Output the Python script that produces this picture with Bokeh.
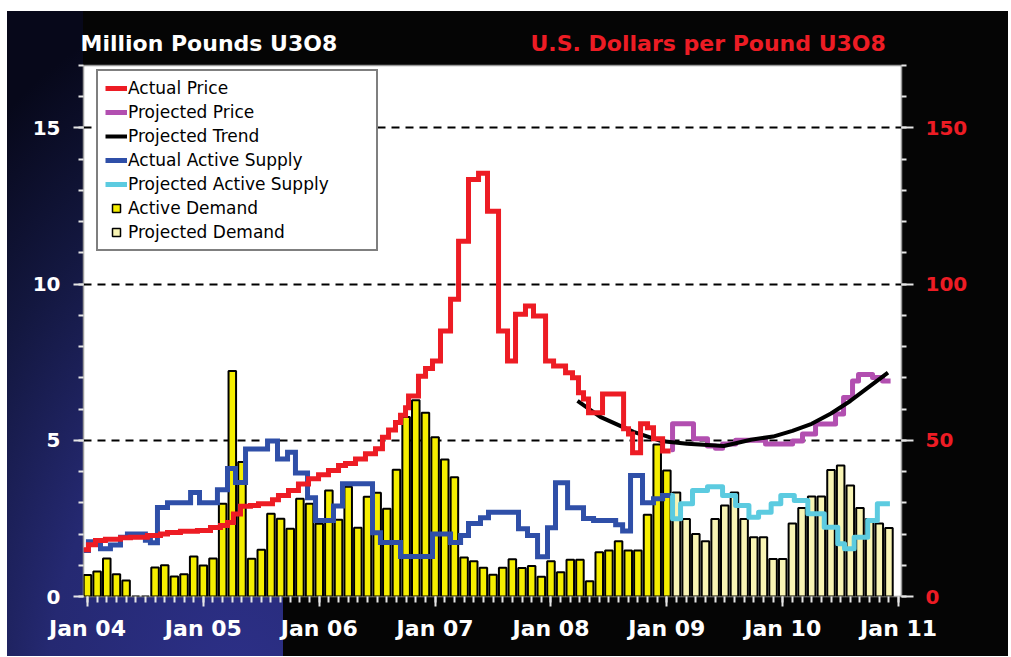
from bokeh.plotting import figure
from bokeh.models import (Range1d, LinearAxis, FixedTicker, Title,
                          Legend, LegendItem)
from bokeh.embed import file_html
from bokeh.resources import INLINE

# ---------------- data ----------------
# month index: 0 = Jan 2004
x_tick_pos = [0, 12, 24, 36, 48, 60, 72, 84]
x_tick_labels = ["Jan 04", "Jan 05", "Jan 06", "Jan 07", "Jan 08", "Jan 09", "Jan 10", "Jan 11"]

# Active demand (million lb U3O8), monthly Jan 04 .. Jan 09
active_demand = [
    0.69, 0.80, 1.22, 0.71, 0.51, 0.00, 0.00, 0.93, 1.00, 0.64, 0.71, 1.28,
    0.99, 1.22, 2.97, 7.22, 4.31, 1.21, 1.50, 2.65, 2.49, 2.17, 3.13, 2.97,
    2.33, 3.39, 2.46, 3.51, 2.20, 3.19, 3.32, 2.81, 4.06, 5.75, 6.28, 5.88,
    5.10, 4.39, 3.82, 1.25, 1.13, 0.92, 0.70, 0.92, 1.19, 0.91, 0.98, 0.63,
    1.13, 0.78, 1.18, 1.18, 0.49, 1.42, 1.47, 1.77, 1.47, 1.47, 2.62, 4.87,
    4.03,
]
# Projected demand, monthly Feb 09 .. Dec 10
projected_demand = [
    3.33, 2.48, 2.00, 1.77, 2.48, 2.91, 3.33, 2.48, 1.90, 1.90, 1.20,
    1.20, 2.34, 2.83, 3.20, 3.20, 4.05, 4.19, 3.55, 2.83, 2.48, 2.34, 2.19,
]
active_months = list(range(0, len(active_demand)))
projected_months = list(range(len(active_demand), len(active_demand) + len(projected_demand)))

# Actual price (US$/lb), step start (month index) and value
price_month = [
    -0.41, 0.10, 0.83, 1.86, 3.42, 4.45, 6.21, 7.56, 8.29, 9.63, 11.39, 12.74,
    13.78, 14.50, 15.12, 15.85, 16.88, 17.71, 19.16, 19.78, 20.82, 21.85, 22.89,
    23.93, 24.96, 26.00, 26.72, 27.76, 28.79, 29.83, 30.55, 31.18, 31.90, 32.42,
    32.94, 33.25, 34.28, 35.01, 35.73, 36.56, 37.60, 38.43, 39.46, 40.50, 41.43,
    42.57, 43.50, 44.33, 45.36, 46.19, 47.44, 48.27, 49.51, 50.23, 50.85, 51.37,
    51.89, 53.34, 55.52, 56.03, 56.45, 57.28, 58.00, 58.62, 59.56, 60.38,
]
price_value = [
    15.0, 16.6, 17.9, 18.3, 18.8, 19.0, 19.5, 20.0, 20.5, 20.9, 21.1, 22.1,
    22.7, 23.7, 26.4, 28.9, 29.1, 29.7, 31.0, 32.3, 33.9, 36.0, 37.7,
    39.0, 40.3, 41.9, 42.6, 44.0, 45.7, 47.3, 51.0, 53.3, 55.7, 58.0,
    60.4, 64.2, 70.5, 73.0, 75.4, 85.0, 95.2, 113.7, 133.5, 135.5, 123.3,
    85.0, 75.4, 90.4, 93.0, 89.8, 75.4, 73.8, 71.6, 70.0, 65.2, 63.2,
    58.8, 64.8, 53.7, 52.0, 46.0, 55.3, 54.0, 50.5, 46.6, 46.6,
]

# Projected price
proj_price_month = [60.38, 60.59, 62.76, 64.21, 65.04, 65.77, 67.12, 70.22, 73.02,
                    74.05, 75.40, 77.47, 78.30, 79.23, 79.85, 81.30, 82.34, 83.17]
proj_price_value = [47.0, 55.3, 50.5, 48.2, 47.5, 48.8, 50.0, 48.8, 49.8,
                    52.0, 55.2, 58.4, 63.7, 69.0, 71.1, 70.1, 69.0, 69.0]

# Projected trend
trend_month = [50.75, 53.1, 56.55, 59.35, 62.1, 65.9, 68.7, 71.0, 73.0, 75.0, 77.0, 79.0, 81.0, 82.9]
trend_value = [62.6, 57.5, 52.7, 49.8, 48.9, 48.2, 50.2, 51.2, 53.0, 55.3, 58.6, 62.6, 67.3, 71.7]

# Actual active supply (million lb)
supply_month = [
    -0.41, 0.10, 1.35, 2.38, 3.42, 4.14, 6.00, 6.52, 7.25, 8.29, 10.68, 11.60,
    13.46, 14.50, 15.33, 16.37, 18.65, 19.68, 20.72, 21.54, 22.79, 23.62, 25.48,
    26.41, 29.52, 30.34, 32.42, 35.73, 37.60, 38.64, 39.46, 40.70, 41.53, 44.64,
    45.57, 46.61, 47.64, 48.47, 49.72, 51.37, 52.41, 54.70, 55.42, 56.24, 57.48,
    58.62, 59.56, 60.38,
]
supply_value = [
    1.47, 1.75, 1.53, 1.65, 1.90, 2.00, 1.80, 1.72, 2.85, 3.00, 3.33, 3.00,
    3.42, 4.10, 3.65, 4.72, 4.98, 4.40, 4.62, 3.95, 3.16, 2.43, 2.90,
    3.61, 2.04, 1.73, 1.28, 2.00, 1.73, 1.95, 2.34, 2.52, 2.70, 2.17,
    1.95, 1.27, 2.20, 3.64, 2.84, 2.50, 2.43, 2.30, 2.10, 3.87, 3.00,
    3.13, 3.23, 3.23,
]

# Projected active supply
proj_supply_month = [60.38, 60.59, 61.42, 62.66, 64.21, 65.77, 67.12, 68.5, 69.5, 70.8,
                     71.8, 73.2, 74.6, 76.3, 77.7, 78.4, 79.4, 80.8, 81.8, 83.1]
proj_supply_value = [3.23, 2.49, 2.97, 3.39, 3.51, 3.23, 2.91, 2.54, 2.70, 2.97,
                     3.23, 3.07, 2.65, 2.22, 1.69, 1.53, 1.90, 2.43, 2.97, 2.97]

# ---------------- styling ----------------
RED = "#ed1c24"
PURPLE = "#b24fb0"
BLUE = "#2f4fa8"
CYAN = "#5ccbe0"
YELLOW = "#f5ee00"
PALE = "#f8f4b4"
BG = "#050505"
TICK = "#e6e6e6"
FONT = "DejaVu Sans"

X0, X1 = -0.41, 84.3
W, H = 1008, 656
FRAME_TOP, FRAME_H, FRAME_L, FRAME_W = 65, 531, 83, 818
PANEL_R = 283

# page-level background: white margins, black board, navy gradient panel lower-left
bg_css = {
    "background-color": BG,
    "background-image": (
        "linear-gradient(#ffffff, #ffffff), "
        "linear-gradient(#ffffff, #ffffff), "
        f"linear-gradient({BG}, {BG}), "
        f"linear-gradient({BG}, {BG}), "
        "radial-gradient(ellipse 430px 720px at 240px 715px, #2d3089 0%, #252972 45%, #13173f 75%, #07081a 100%)"
    ),
    "background-size": (f"{W}px 11px, 7px {H}px, {W - FRAME_L}px {FRAME_TOP}px, "
                        f"{W - PANEL_R}px {H}px, {PANEL_R}px {H}px"),
    "background-position": f"0px 0px, 0px 0px, {FRAME_L}px 0px, {PANEL_R}px 0px, 0px 0px",
    "background-repeat": "no-repeat",
}

p = figure(width=W, height=H, x_range=Range1d(X0, X1), y_range=Range1d(0, 17),
           output_backend="svg", toolbar_location=None,
           min_border_left=FRAME_L, min_border_right=W - FRAME_L - FRAME_W,
           min_border_top=FRAME_TOP, min_border_bottom=H - FRAME_TOP - FRAME_H,
           border_fill_color=None, background_fill_color="white",
           outline_line_color="#9a9a9a", outline_line_width=1.5,
           styles=bg_css)
p.extra_y_ranges = {"price": Range1d(0, 170)}

# grid
p.xgrid.visible = False
p.ygrid[0].ticker = FixedTicker(ticks=[5, 10, 15])
p.ygrid.grid_line_color = "black"
p.ygrid.grid_line_dash = "8 6"
p.ygrid.grid_line_width = 2

# axes
def style_axis(ax, color, out_major, out_minor, standoff):
    ax.axis_line_color = None
    ax.major_tick_line_color = TICK
    ax.minor_tick_line_color = TICK
    ax.major_tick_line_width = 2
    ax.minor_tick_line_width = 2
    ax.major_tick_in = 0
    ax.minor_tick_in = 0
    ax.major_tick_out = out_major
    ax.minor_tick_out = out_minor
    ax.major_label_text_color = color
    ax.major_label_text_font = FONT
    ax.major_label_text_font_style = "bold"
    ax.major_label_text_font_size = "20px"
    ax.major_label_standoff = standoff

xa = p.xaxis[0]
xa.ticker = FixedTicker(ticks=x_tick_pos, minor_ticks=list(range(0, 85)))
xa.major_label_overrides = {k: v for k, v in zip(x_tick_pos, x_tick_labels)}
style_axis(xa, "white", 10, 6, 9)
xa.major_label_text_font_size = "22px"

ya = p.yaxis[0]
ya.ticker = FixedTicker(ticks=[0, 5, 10, 15], minor_ticks=list(range(0, 18)))
style_axis(ya, "white", 10, 5, 13)

ra = LinearAxis(y_range_name="price",
                ticker=FixedTicker(ticks=[0, 50, 100, 150], minor_ticks=list(range(0, 171, 10))))
style_axis(ra, RED, 12, 5, 12)
p.add_layout(ra, "right")

# bars
bars_a = p.vbar(x=active_months, top=active_demand, width=0.78, fill_color=YELLOW,
                line_color="black", line_width=2)
bars_p = p.vbar(x=projected_months, top=projected_demand, width=0.78, fill_color=PALE,
                line_color="black", line_width=2)

# lines
l_supply = p.step(x=supply_month, y=supply_value, mode="after", line_color=BLUE,
                  line_width=5, line_join="miter")
l_psupply = p.step(x=proj_supply_month, y=proj_supply_value, mode="after", line_color=CYAN,
                   line_width=5, line_join="round")
l_pprice = p.step(x=proj_price_month, y=proj_price_value, mode="after", line_color=PURPLE,
                  line_width=5, line_join="round", y_range_name="price")
l_trend = p.line(x=trend_month, y=trend_value, line_color="black", line_width=4,
                 y_range_name="price")
l_price = p.step(x=price_month, y=price_value, mode="after", line_color=RED,
                 line_width=5, line_join="miter", y_range_name="price")

# legend swatches for the bars (hidden renderers of the same data)
sw_a = p.scatter(x=active_months, y=active_demand, marker="square", fill_color=YELLOW,
                 line_color="black", line_width=1.5, visible=False)
sw_p = p.scatter(x=projected_months, y=projected_demand, marker="square", fill_color=PALE,
                 line_color="black", line_width=1.5, visible=False)

legend = Legend(items=[
    LegendItem(label="Actual Price", renderers=[l_price]),
    LegendItem(label="Projected Price", renderers=[l_pprice]),
    LegendItem(label="Projected Trend", renderers=[l_trend]),
    LegendItem(label="Actual Active Supply", renderers=[l_supply]),
    LegendItem(label="Projected Active Supply", renderers=[l_psupply]),
    LegendItem(label="Active Demand", renderers=[sw_a]),
    LegendItem(label="Projected Demand", renderers=[sw_p]),
], location=(13, 345), padding=7, spacing=4,
    glyph_width=22, glyph_height=20, label_height=20, label_standoff=1, label_width=241,
    label_text_font=FONT, label_text_font_size="17px", label_text_color="black",
    border_line_color="black", border_line_width=2,
    background_fill_color="white", background_fill_alpha=1,
    inactive_fill_alpha=0)
p.add_layout(legend)

# header texts (two titles sharing one row above the frame)
p.add_layout(Title(text="U.S. Dollars per Pound U3O8", align="left", offset=447,
                   text_color=RED, text_font=FONT, text_font_style="bold",
                   text_font_size="22px", standoff=19), "above")
p.add_layout(Title(text="Million Pounds U3O8", align="left", offset=-3,
                   text_color="white", text_font=FONT, text_font_style="bold",
                   text_font_size="22px", standoff=-72), "above")

open("out.html", "w").write(file_html(p, INLINE))
